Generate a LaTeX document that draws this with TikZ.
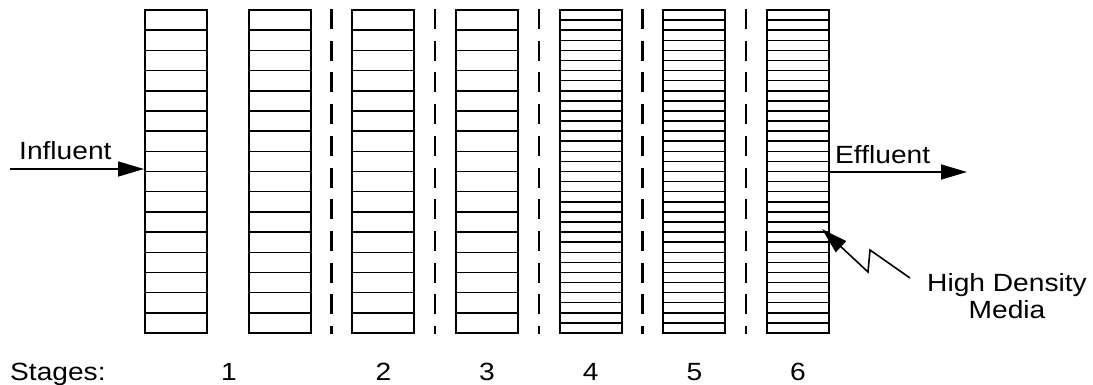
\documentclass[tikz,border=0pt]{standalone}
\usepackage{fontspec}
\setmainfont{Liberation Sans}[FakeStretch=1.13]
\usetikzlibrary{arrows.meta,calc}
\tikzset{
  every picture/.style={>={Triangle[length=26bp,width=15bp]}, x=1bp, y=-1bp},
  bed/.style={draw, line width=2bp, minimum width=62bp, minimum height=323bp, inner sep=0pt},
  tray/.style={line width=1.5bp},
  wall/.style={line width=2.4bp, dash pattern=on 20bp off 11.7bp},
  flow/.style={->, line width=1.6bp},
  lbl/.style={font=\fontsize{25}{27}\selectfont, inner sep=0pt},
}
\def\pitch{103.67}
\def\ytop{10}
\def\ybot{333}
\newcommand{\bedcol}[2]{% packed column #1, cut into #2 trays
  \node[bed] (col#1) at ({176+(#1-1)*\pitch},171.5) {};
  \pgfmathsetmacro{\dy}{(\ybot-\ytop)/#2}
  \pgfmathtruncatemacro{\nk}{#2-1}
  \foreach \k in {1,...,\nk}
    \draw[tray] ({176+(#1-1)*\pitch-31},{\ytop+\k*\dy}) -- ++(62,0);
}

\begin{document}
\begin{tikzpicture}
  \path[use as bounding box] (0,0) rectangle (1093,384);
  \foreach \c in {1,...,4} {\bedcol{\c}{16}}
  \foreach \c in {5,6,7} {\bedcol{\c}{32}}
  \foreach \i/\j in {2/3,3/4,4/5,5/6,6/7}
    \draw[wall] ($(col\i.north east)!.5!(col\j.north west)$) -- ($(col\i.south east)!.5!(col\j.south west)$);
  % in and out
  \coordinate (inlet) at (10,169);
  \coordinate (outlet) at (967,172);
  \draw[flow] (inlet) -- (inlet -| col1.west);
  \draw[flow] (outlet -| col7.east) -- (outlet);
  \node[lbl, anchor=base west] (influent) at (19,159) {Influent};
  \node[lbl, anchor=base west] (effluent) at (835,163) {Effluent};
  \node[lbl, align=center, anchor=north] (media) at (1007,273) {High Density\\Media};
  \coordinate (lead) at (910,278);
  \coordinate (hit) at (822,229);
  \draw[flow, line join=miter] (lead) -- (870,250) -- (868,272) -- (hit);
  % stage numbers
  \coordinate (stagerow) at (0,380);
  \node[lbl, anchor=base west] (stages) at (10,380) {Stages:};
  \node[lbl, anchor=base] (stage1) at (229,380) {1};
  \foreach \s/\c in {2/3,3/4,4/5,5/6,6/7}
    \node[lbl, anchor=base] (stage\s) at (col\c |- stagerow) {\s};
\end{tikzpicture}
\end{document}
